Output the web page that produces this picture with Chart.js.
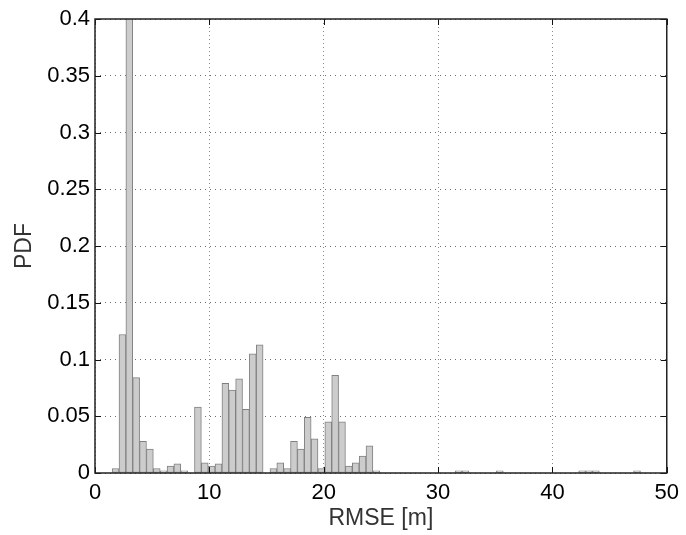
<!DOCTYPE html>
<html>
<head>
<meta charset="utf-8">
<script src="https://cdn.jsdelivr.net/npm/chart.js@4/dist/chart.umd.min.js"></script>
<style>
  html, body { margin: 0; padding: 0; background: #fff; }
  #wrap { width: 686px; height: 535px; }
</style>
</head>
<body>
<div id="wrap"><canvas id="rmseChart" width="686" height="535"></canvas></div>
<script>
// histogram bins (bin centres, m) and their PDF values
const rmseBins = [1.8, 2.4, 3.0, 3.6, 4.2, 4.8, 5.4, 6.0, 6.6, 7.2, 7.8,
    9.0, 9.6, 10.2, 10.8, 11.4, 12.0, 12.6, 13.2, 13.8, 14.4,
    15.6, 16.2, 16.8, 17.4, 18.0, 18.6, 19.2, 19.8, 20.4, 21.0, 21.6, 22.2, 22.8, 23.4, 24.0, 24.6,
    31.8, 32.4, 35.4, 42.6, 43.2, 43.8, 47.4];
const pdf = [0.004, 0.122, 0.45, 0.084, 0.028, 0.021, 0.004, 0.002, 0.006, 0.008, 0.002,
    0.058, 0.009, 0.006, 0.008, 0.079, 0.073, 0.083, 0.056, 0.105, 0.113,
    0.004, 0.009, 0.004, 0.028, 0.021, 0.049, 0.030, 0.004, 0.045, 0.086, 0.045, 0.006, 0.009, 0.015, 0.024, 0.002,
    0.002, 0.002, 0.002, 0.002, 0.002, 0.002, 0.002];
const xTicks = [0, 10, 20, 30, 40, 50];
const yTicks = [0, 0.05, 0.1, 0.15, 0.2, 0.25, 0.3, 0.35, 0.4];

const fontName = '"Liberation Sans", Arial, Helvetica, sans-serif';

// matlab style box with inward tick marks
const boxPlugin = {
    id: 'boxPlugin',
    afterDraw: (chart) => {
        let ctx = chart.ctx;
        let a = chart.chartArea;
        let xs = chart.scales.x;
        let ys = chart.scales.y;
        ctx.save();
        ctx.strokeStyle = '#111';
        ctx.lineWidth = 1;
        xTicks.forEach(t => {
            let px = Math.round(xs.getPixelForValue(t)) + 0.5;
            ctx.beginPath();
            ctx.moveTo(px, a.bottom); ctx.lineTo(px, a.bottom - 6);
            ctx.moveTo(px, a.top); ctx.lineTo(px, a.top + 6);
            ctx.stroke();
        });
        yTicks.forEach(t => {
            let py = Math.round(ys.getPixelForValue(t)) + 0.5;
            ctx.beginPath();
            ctx.moveTo(a.left, py); ctx.lineTo(a.left + 6, py);
            ctx.moveTo(a.right, py); ctx.lineTo(a.right - 6, py);
            ctx.stroke();
        });
        ctx.lineWidth = 1.5;
        ctx.strokeStyle = '#222';
        ctx.strokeRect(a.left, a.top, a.right - a.left, a.bottom - a.top);
        ctx.restore();
    }
};

let ctx1 = document.getElementById('rmseChart').getContext('2d');
let rmseChart = new Chart(ctx1, {
    type: 'bar',
    data: {
        datasets: [{
            label: 'PDF',
            data: rmseBins.map((b, i) => ({ x: b, y: pdf[i] })),
            backgroundColor: '#cccccc',
            borderColor: '#808080',
            borderWidth: 1,
            borderSkipped: false,
            barPercentage: 1,
            categoryPercentage: 1
        }]
    },
    options: {
        responsive: false,
        animation: false,
        layout: {
            padding: { top: 19, right: 16, left: 0, bottom: 0 }
        },
        plugins: {
            legend: { display: false },
            tooltip: { enabled: false }
        },
        scales: {
            x: {
                type: 'linear',
                min: 0,
                max: 50,
                offset: false,
                afterFit: (scale) => { scale.height = 62; },
                grid: {
                    offset: false,
                    drawTicks: false,
                    color: '#8c8c8c',
                    lineWidth: 1
                },
                border: { display: false, dash: [1, 3] },
                ticks: {
                    stepSize: 10,
                    padding: 7,
                    color: '#000',
                    font: { family: fontName, size: 22 },
                    maxRotation: 0
                },
                title: {
                    display: true,
                    text: 'RMSE [m]',
                    color: '#333',
                    padding: { top: 0, bottom: 3 },
                    font: { family: fontName, size: 23 }
                }
            },
            y: {
                min: 0,
                max: 0.4,
                afterFit: (scale) => { scale.width = 95; },
                grid: {
                    drawTicks: false,
                    color: '#6e6e6e',
                    lineWidth: 1
                },
                border: { display: false, dash: [1, 4] },
                ticks: {
                    stepSize: 0.05,
                    padding: 5,
                    color: '#000',
                    font: { family: fontName, size: 22 },
                    callback: (v) => String(+v.toFixed(2))
                },
                title: {
                    display: true,
                    text: 'PDF',
                    color: '#333',
                    padding: { top: 11, bottom: 0 },
                    font: { family: fontName, size: 23 }
                }
            }
        }
    },
    plugins: [boxPlugin]
});
</script>
</body>
</html>
